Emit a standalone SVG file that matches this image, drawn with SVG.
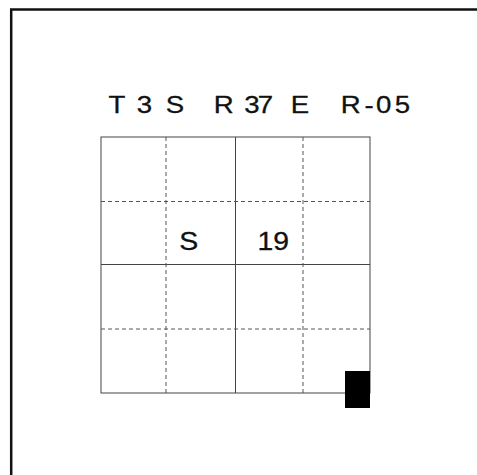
<svg xmlns="http://www.w3.org/2000/svg" width="477" height="475" viewBox="0 0 477 475">
  <style>
    .t { font-family: "Liberation Sans", Arial, sans-serif; font-size: 24px; fill: #111; stroke: #111; stroke-width: 0.3; }
    .c { font-family: "Liberation Sans", Arial, sans-serif; font-size: 25px; fill: #111; stroke: #111; stroke-width: 0.3; }
    .solid { stroke: #444; stroke-width: 1; fill: none; }
    .dash { stroke: #555; stroke-width: 1; fill: none; stroke-dasharray: 4 3; }
  </style>
  <rect width="477" height="475" fill="#fff"/>
  <g id="frame">
    <path d="M11.2 477 V9.6 H477" fill="none" stroke="#111" stroke-width="2.5"/>
  </g>
  <g id="heading" transform="scale(1.15 1)">
    <text class="t" x="94.26 108 118.96 132 144.09" y="113.5">T 3 S</text>
    <text class="t" x="185.91 200 212.43 224.17 240 252.87" y="113.5">R 37 E</text>
    <text class="t" x="296.35 316.9 326.9 343.3" y="113.5">R-05</text>
  </g>
  <g id="grid">
    <rect class="solid" x="101" y="137" width="269" height="256"/>
    <line class="solid" x1="235.5" y1="137" x2="235.5" y2="393"/>
    <line class="solid" x1="101" y1="264.5" x2="370" y2="264.5"/>
    <line class="dash" x1="166" y1="137" x2="166" y2="393"/>
    <line class="dash" x1="303" y1="137" x2="303" y2="393"/>
    <line class="dash" x1="101" y1="201.5" x2="370" y2="201.5"/>
    <line class="dash" x1="101" y1="329" x2="370" y2="329"/>
  </g>
  <g id="cell-S">
    <text class="c" x="179.3" y="250" textLength="19" lengthAdjust="spacingAndGlyphs">S</text>
  </g>
  <g id="cell-19">
    <text class="c" x="257.5" y="250" textLength="31.5" lengthAdjust="spacingAndGlyphs">19</text>
  </g>
  <g id="marker">
    <rect x="345" y="371" width="25" height="37" fill="#000"/>
  </g>
</svg>
